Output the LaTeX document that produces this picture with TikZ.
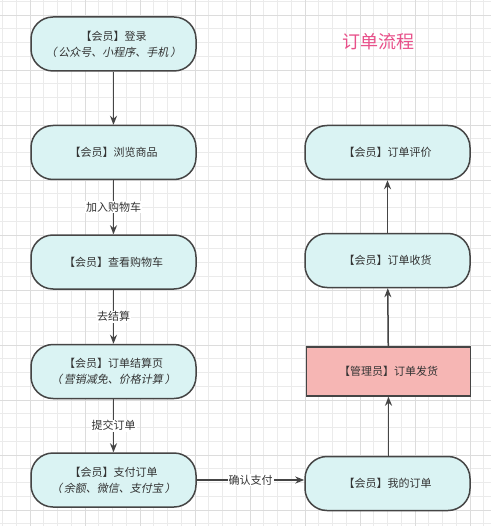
\documentclass[tikz,border=0pt]{standalone}
\usepackage{fontspec}
\newfontfamily\cjk{Noto Sans CJK SC}
\newfontfamily\cjkit[FakeSlant=0.2]{Noto Sans CJK SC}
\usetikzlibrary{arrows.meta}
\definecolor{boxc}{HTML}{DAF3F3}
\definecolor{pinkc}{HTML}{F6B6B4}
\definecolor{linec}{HTML}{454545}
\definecolor{textc}{HTML}{333333}
\definecolor{titlec}{HTML}{E8508A}
\definecolor{minorc}{HTML}{EBEBEB}
\definecolor{majorc}{HTML}{DCDCDC}
\tikzset{
  member/.style={draw=linec, fill=boxc, rounded corners=22pt, minimum width=165pt, minimum height=54pt, line width=1.5pt, align=center, text=textc, font=\cjk\fontsize{11}{16}\selectfont, inner sep=0pt},
  admin/.style={draw=linec, fill=pinkc, minimum width=164pt, minimum height=49pt, line width=1.5pt, align=center, text=textc, font=\cjk\fontsize{11}{16}\selectfont, inner sep=0pt},
  flow/.style={draw=linec, line width=1.5pt, -{Stealth[length=9pt,width=7pt]}},
  elabel/.style={fill=white, text=textc, font=\cjk\fontsize{11}{14}\selectfont, inner sep=1pt},
  minorline/.style={draw=minorc, line width=0.6pt},
  majorline/.style={draw=majorc, line width=0.8pt}
}
\begin{document}
\begin{tikzpicture}[x=1pt,y=-1pt]
\useasboundingbox (0,0) rectangle (491,526);
\fill[white] (0,0) rectangle (491,526);
\foreach \i in {0,...,35} {\draw[minorline] ({2.5+\i*13.75},0) -- ({2.5+\i*13.75},526);}
\foreach \i in {0,...,38} {\draw[minorline] (0,{1.25+\i*13.75}) -- (491,{1.25+\i*13.75});}
\foreach \x in {30,85,...,470} {\draw[majorline] (\x,0) -- (\x,526);}
\foreach \y in {15,70,...,510} {\draw[majorline] (0,\y) -- (491,\y);}

\node[text=titlec, font=\cjk\fontsize{18}{20}\selectfont] (title) at (378,42) {订单流程};

\node[member] (login) at (113.5,44) {【会员】登录\\{\cjkit（\,公众号、小程序、手机\,）}};
\node[member] (browse) at (113.5,152.5) {【会员】浏览商品};
\node[member] (cart) at (113.5,262) {【会员】查看购物车};
\node[member] (settle) at (113.5,371.5) {【会员】订单结算页\\{\cjkit（\,营销减免、价格计算\,）}};
\node[member] (pay) at (113.5,480) {【会员】支付订单\\{\cjkit（\,余额、微信、支付宝\,）}};

\node[member] (myorder) at (387.5,483.5) {【会员】我的订单};
\node[admin] (ship) at (388.5,371.5) {【管理员】订单发货};
\node[member] (receive) at (387.5,260.5) {【会员】订单收货};
\node[member] (review) at (387.5,152.5) {【会员】订单评价};

\draw[flow] (login) -- (browse);
\draw[flow] (browse) -- node[elabel] {加入购物车} (cart);
\draw[flow] (cart) -- node[elabel] {去结算} (settle);
\draw[flow] (settle) -- node[elabel] {提交订单} (pay);
\draw[flow] (pay.east) -- node[elabel] {确认支付} (pay.east -| myorder.west);
\draw[flow] (myorder.north -| ship.south) -- (ship.south);
\draw[flow] (ship) -- (receive);
\draw[flow] (receive) -- (review);
\end{tikzpicture}
\end{document}
